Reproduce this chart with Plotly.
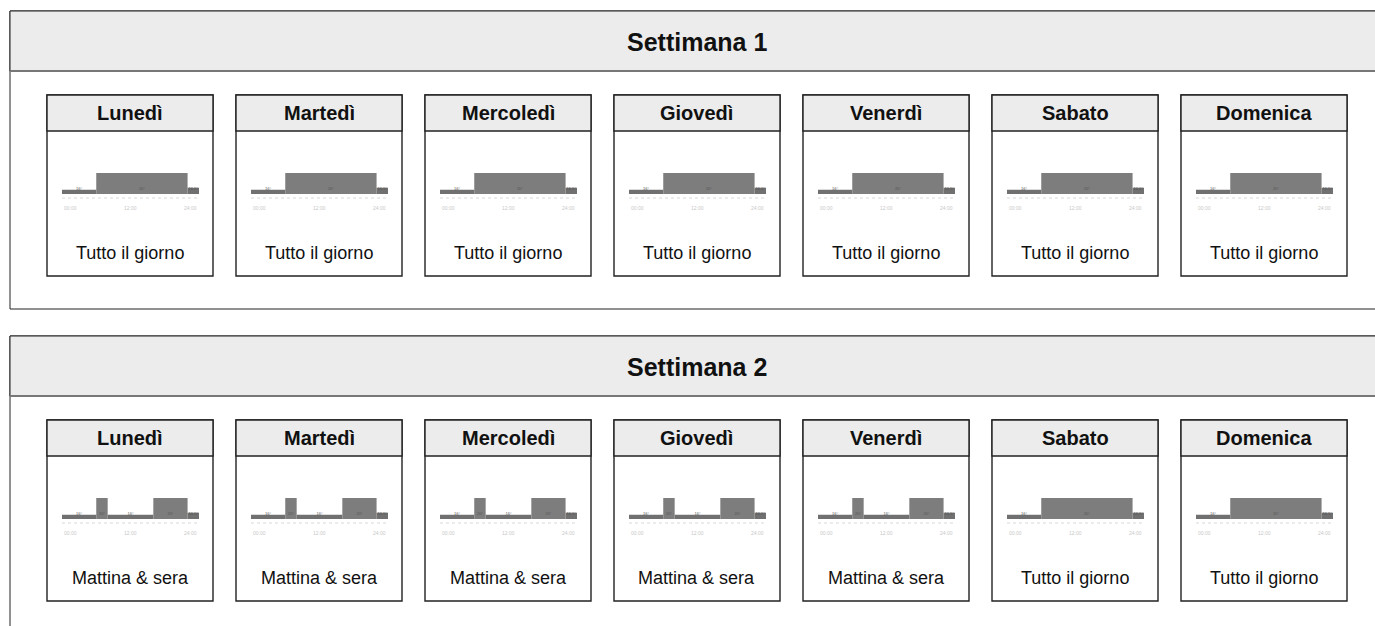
import plotly.graph_objects as go

W, H = 1375, 626

weeks = ["Settimana 1", "Settimana 2"]
days = ["Lunedì", "Martedì", "Mercoledì", "Giovedì", "Venerdì", "Sabato", "Domenica"]

# schedule profiles: segment start hour, end hour, temperature
profile_names = ["Tutto il giorno", "Mattina & sera"]
tutto_start = [0, 6, 22]
tutto_end = [6, 22, 24]
tutto_temp = [16, 20, 16.5]
mattina_start = [0, 6, 8, 16, 22]
mattina_end = [6, 8, 16, 22, 24]
mattina_temp = [16, 20, 16, 20, 16.5]

week1_profiles = ["Tutto il giorno"] * 7
week2_profiles = ["Mattina & sera"] * 5 + ["Tutto il giorno"] * 2

tick_labels = ["00:00", "12:00", "24:00"]
temp_base = 15
temp_top = 21

profiles = {
    "Tutto il giorno": (tutto_start, tutto_end, tutto_temp),
    "Mattina & sera": (mattina_start, mattina_end, mattina_temp),
}


def X(px):
    return px / W


def Y(py):
    return 1 - py / H


FONT = "Liberation Sans, Arial, sans-serif"
shapes, annotations = [], []
fig = go.Figure()


def rect(x0, y0, x1, y1, fill="white", line="#222", lw=1):
    shapes.append(dict(type="rect", xref="paper", yref="paper", x0=X(x0), x1=X(x1),
                       y0=Y(y1), y1=Y(y0), fillcolor=fill, line=dict(color=line, width=lw),
                       layer="below"))


def hline(x0, x1, py, color, lw=1, dash="solid"):
    shapes.append(dict(type="line", xref="paper", yref="paper", x0=X(x0), x1=X(x1),
                       y0=Y(py), y1=Y(py), line=dict(color=color, width=lw, dash=dash),
                       layer="below"))


def text(px, py, s, size, bold=False, color="#111", xanchor="center"):
    annotations.append(dict(xref="paper", yref="paper", x=X(px), y=Y(py), text=("<b>%s</b>" % s) if bold else s,
                            showarrow=False, xanchor=xanchor, yanchor="middle",
                            font=dict(family=FONT, size=size, color=color)))


ax_i = 0
layout_axes = {}
for s, (wk, profs) in enumerate(zip(weeks, [week1_profiles, week2_profiles])):
    top = 11 + s * 325
    bottom = top + 298
    rect(10, top, 1385, bottom, fill="white", line="#222", lw=1)
    rect(10, top, 1385, top + 60, fill="#ececec", line="#222", lw=1)
    hline(10, 1385, top + 60, "#777", lw=2)
    text(697, top + 31, wk, 25, bold=True)
    for d, (day, pname) in enumerate(zip(days, profs)):
        cx = 47 + d * 189
        ctop = top + 84
        rect(cx, ctop, cx + 166, ctop + 181, fill="white", line="#222", lw=1.4)
        rect(cx, ctop, cx + 166, ctop + 36, fill="#ececec", line="#222", lw=1.4)
        text(cx + 83, ctop + 18, day, 20, bold=True)
        text(cx + 83, ctop + 158, pname, 18)
        # thumbnail
        ax_i += 1
        sfx = "" if ax_i == 1 else str(ax_i)
        st, en, tp = profiles[pname]
        centers = [(a + b) / 2 for a, b in zip(st, en)]
        widths = [(b - a) for a, b in zip(st, en)]
        heights = [t - temp_base for t in tp]
        colors = ["#7d7d7d" if t >= 19 else "#707070" for t in tp]
        fig.add_trace(go.Bar(x=centers, y=heights, base=temp_base, width=widths,
                             marker=dict(color=colors, line=dict(width=0)),
                             xaxis="x" + sfx, yaxis="y" + sfx, showlegend=False,
                             hoverinfo="skip"))
        fig.add_trace(go.Scatter(x=centers, y=[temp_base + 1.2] * len(centers),
                                 text=["%g°" % t for t in tp], mode="text",
                                 textfont=dict(size=4, color="#555", family=FONT),
                                 xaxis="x" + sfx, yaxis="y" + sfx, showlegend=False,
                                 hoverinfo="skip"))
        ybot = ctop + 99
        ytop = ybot - 4.2 * (temp_top - temp_base)
        layout_axes["xaxis" + sfx] = dict(domain=[X(cx + 15), X(cx + 152)], range=[0, 24],
                                          visible=False, fixedrange=True,
                                          anchor="y" + sfx)
        layout_axes["yaxis" + sfx] = dict(domain=[Y(ybot), Y(ytop)], range=[temp_base, temp_top],
                                          visible=False, fixedrange=True,
                                          anchor="x" + sfx)
        hline(cx + 15, cx + 152, ctop + 103, "#d8d8d8", lw=1, dash="dot")
        text(cx + 15, ctop + 113, tick_labels[0], 5, color="#c8c8c8", xanchor="left")
        text(cx + 83.5, ctop + 113, tick_labels[1], 5, color="#c8c8c8", xanchor="center")
        text(cx + 152, ctop + 113, tick_labels[2], 5, color="#c8c8c8", xanchor="right")

fig.update_layout(width=W, height=H, margin=dict(l=0, r=0, t=0, b=0),
                  paper_bgcolor="white", plot_bgcolor="rgba(0,0,0,0)",
                  shapes=shapes, annotations=annotations, showlegend=False,
                  font=dict(family=FONT), **layout_axes)
fig.write_html("out.html", config={"displayModeBar": False},
               post_script="document.body.style.margin='0';document.body.style.overflow='hidden';")
